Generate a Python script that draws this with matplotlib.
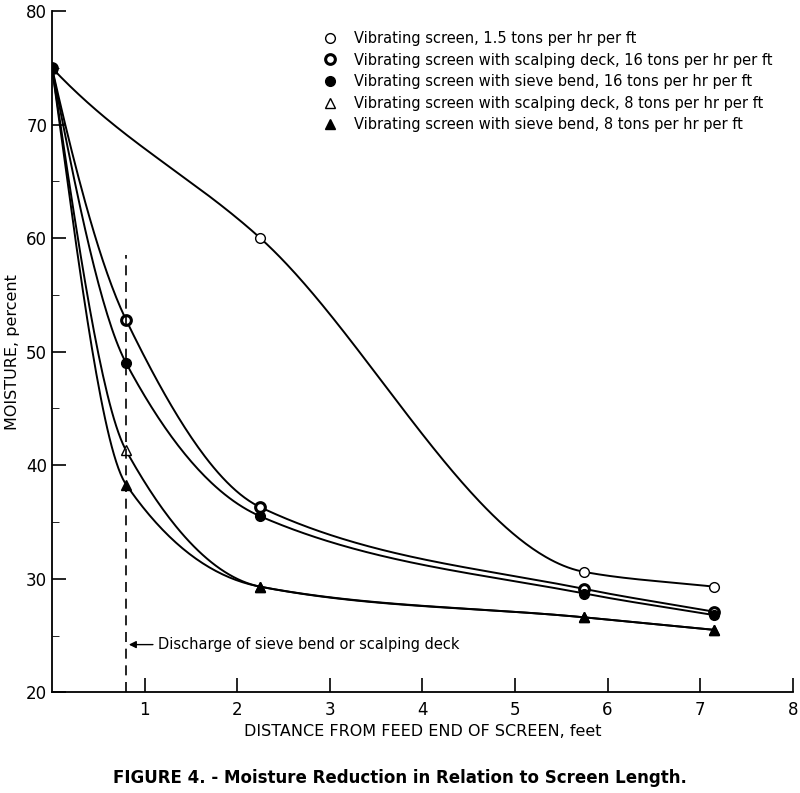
import numpy as np
import matplotlib
matplotlib.use("Agg")
import matplotlib.pyplot as plt
from matplotlib.lines import Line2D

x = [0.0, 0.8, 2.25, 5.75, 7.15]
x_vs15 = [0.0, 2.25, 5.75, 7.15]
vs15 = [75, 60, 30.6, 29.3]
scalp16 = [75, 52.8, 36.3, 29.1, 27.1]
sieve16 = [75, 49.0, 35.5, 28.7, 26.8]
scalp8 = [75, 41.3, 29.3, 26.6, 25.5]
sieve8 = [75, 38.3, 29.3, 26.6, 25.5]
labels = ["Vibrating screen, 1.5 tons per hr per ft",
          "Vibrating screen with scalping deck, 16 tons per hr per ft",
          "Vibrating screen with sieve bend, 16 tons per hr per ft",
          "Vibrating screen with scalping deck, 8 tons per hr per ft",
          "Vibrating screen with sieve bend, 8 tons per hr per ft"]

def pchip(xs, ys, n=300):
    xs = np.asarray(xs, float); ys = np.asarray(ys, float)
    h = np.diff(xs); d = np.diff(ys) / h
    m = np.zeros_like(ys)
    for k in range(1, len(xs) - 1):
        if d[k-1] * d[k] > 0:
            w1 = 2*h[k] + h[k-1]; w2 = h[k] + 2*h[k-1]
            m[k] = (w1 + w2) / (w1/d[k-1] + w2/d[k])
    m[0] = d[0] * 1.3; m[-1] = d[-1]
    xx = np.linspace(xs[0], xs[-1], n); yy = np.empty_like(xx)
    for i, xv in enumerate(xx):
        k = min(np.searchsorted(xs, xv, side="right") - 1, len(xs) - 2)
        t = (xv - xs[k]) / h[k]
        h00 = 2*t**3 - 3*t**2 + 1; h10 = t**3 - 2*t**2 + t
        h01 = -2*t**3 + 3*t**2; h11 = t**3 - t**2
        yy[i] = h00*ys[k] + h10*h[k]*m[k] + h01*ys[k+1] + h11*h[k]*m[k+1]
    return xx, yy

fig = plt.figure(figsize=(8, 7.93), dpi=100)
ax = fig.add_axes([0.065, 0.127, 0.926, 0.859])
series = [(x_vs15, vs15, dict(marker="o", mfc="white", mec="black")),
          (x, scalp16, dict(marker="o", mfc="white", mec="black", mew=2.2)),
          (x, sieve16, dict(marker="o", mfc="black", mec="black")),
          (x, scalp8, dict(marker="^", mfc="white", mec="black")),
          (x, sieve8, dict(marker="^", mfc="black", mec="black"))]
handles = []
for (xs, ys, st), lab in zip(series, labels):
    xx, yy = pchip(xs, ys)
    ax.plot(xx, yy, color="black", lw=1.4)
    ax.plot(xs, ys, ls="none", ms=7, **st)
    handles.append(Line2D([], [], ls="none", ms=7, label=lab, **st))

ax.plot([0.8, 0.8], [20, 58.5], ls=(0, (6, 4)), color="black", lw=1.2)
ax.annotate("Discharge of sieve bend or scalping deck", xy=(0.8, 24.2), xytext=(1.15, 24.2),
            va="center", fontsize=10.5,
            arrowprops=dict(arrowstyle="-|>", color="black", lw=1))

ax.set_xlim(0, 8); ax.set_ylim(20, 80)
ax.set_xticks([1, 2, 3, 4, 5, 6, 7, 8])
ax.set_yticks([20, 30, 40, 50, 60, 70, 80])
ax.set_yticks([25, 35, 45, 55, 65, 75], minor=True)
ax.tick_params(direction="in", length=10, width=1.2, labelsize=12)
ax.tick_params(axis="y", which="minor", direction="in", length=5)
ax.tick_params(axis="x", pad=6)
for s in ["top", "right"]:
    ax.spines[s].set_visible(False)
for s in ["left", "bottom"]:
    ax.spines[s].set_linewidth(1.3)
ax.set_xlabel("DISTANCE FROM FEED END OF SCREEN, feet", fontsize=11.5)
ax.set_ylabel("MOISTURE, percent", fontsize=11.5)
ax.legend(handles=handles, loc="upper right", bbox_to_anchor=(0.99, 0.99),
          frameon=False, fontsize=10.5, handletextpad=0.6, labelspacing=0.45)
fig.text(0.5, 0.012, "FIGURE 4. - Moisture Reduction in Relation to Screen Length.",
         ha="center", fontsize=12, fontweight="bold")
fig.savefig("out.png", dpi=100)
